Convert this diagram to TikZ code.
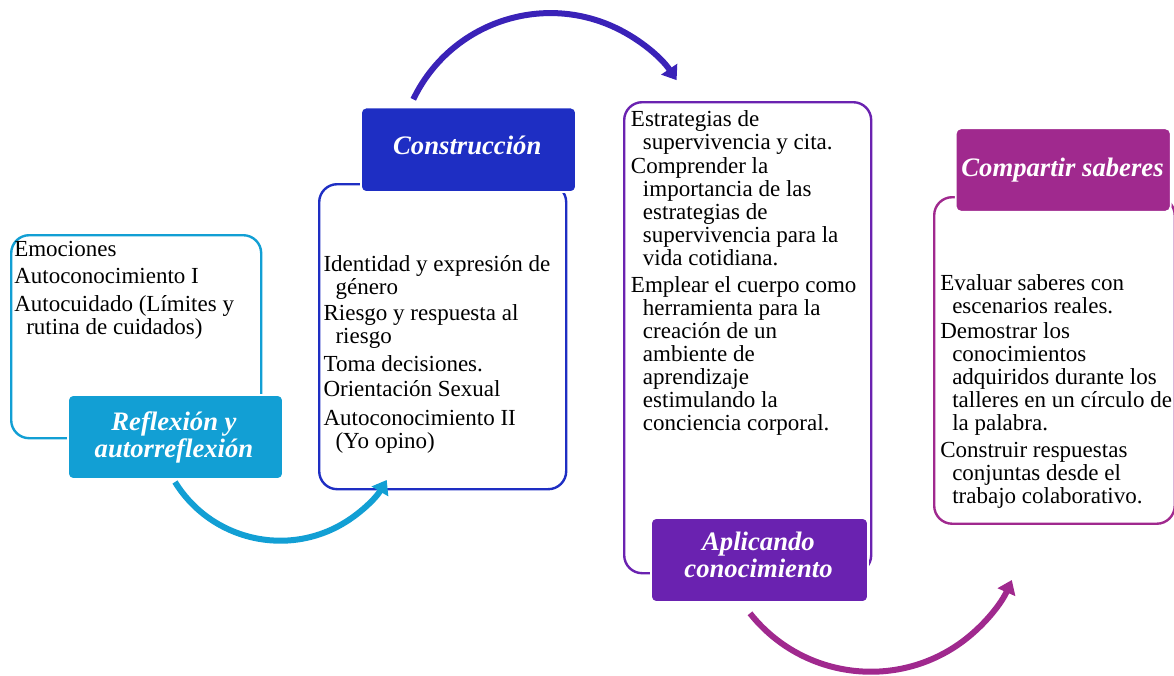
\documentclass[tikz,border=0pt]{standalone}
\usepackage{fontspec}
\setmainfont{Liberation Serif}
\usetikzlibrary{arrows.meta}
\definecolor{cA}{RGB}{18,159,212}
\definecolor{cB}{RGB}{30,46,195}
\definecolor{cBarrow}{RGB}{58,34,184}
\definecolor{cC}{RGB}{106,34,176}
\definecolor{cD}{RGB}{160,41,142}
\newcommand\bodyfnt{\fontsize{17.25}{17.25}\selectfont\lineskiplimit=-30pt\lineskip=0pt\relax}
\newcommand\labfnt{\fontsize{20}{20.25}\selectfont\bfseries\itshape\lineskiplimit=-30pt\lineskip=0pt\relax}
\newcommand\st{\rule{0pt}{15pt}}
\newcommand\ind{\hspace*{9pt}}
\begin{document}
\begin{tikzpicture}[x=0.75pt,y=-0.75pt,
  obox/.style={draw,line width=1.8pt,rounded corners=13.5pt,anchor=north west,inner sep=0pt},
  lbox/.style={fill=#1,draw=white,line width=1.2pt,rounded corners=4pt,inner sep=0pt,minimum width=161.25pt,minimum height=63pt},
  body/.style={anchor=north west,inner sep=0pt,align=left,font=\bodyfnt,text=black},
  ltext/.style={anchor=north,inner sep=0pt,align=center,font=\labfnt,text=white},
  flow/.style={line width=4.5pt,-{Triangle[length=10pt,width=14pt]}}
]
\useasboundingbox (0,0) rectangle (1174,675);
\clip (0,0) rectangle (1174,675);

% outline boxes
\node[obox,draw=cA,minimum width=187.5pt,minimum height=152.25pt] (o1) at (10,234) {};
\node[obox,draw=cB,minimum width=185.25pt,minimum height=228.75pt] (o2) at (318,183) {};
\node[obox,draw=cC,minimum width=185.25pt,minimum height=353.25pt] (o3) at (623,101) {};
\node[obox,draw=cD,minimum width=180.4pt,minimum height=244.9pt] (o4) at (933,196) {};

% label boxes
\node[lbox=cA] (l1) at (175.5,437) {};
\node[lbox=cB,minimum height=63.4pt] (l2) at (468.5,149.75) {};
\node[lbox=cC,minimum width=162.75pt] (l3) at (759.5,560) {};
\node[lbox=cD,minimum height=62.5pt] (l4) at (1063.2,170) {};

% label texts
\node[ltext] (t1) at (174,410.7) {\st Reflexión y\\autorreflexión};
\node[ltext] (t2) at (467.3,134) {\st Construcción};
\node[ltext] (t3) at (758.5,530.7) {\st Aplicando\\conocimiento};
\node[ltext] (t4) at (1062.5,156.7) {\st Compartir saberes};

% body texts
\node[body] (b1) at (14,236) {\st Emociones\\[3pt]
Autoconocimiento I\\[3.75pt]
Autocuidado (Límites y\\
\ind rutina de cuidados)};

\node[body] (b2) at (323.3,251.7) {\st Identidad y expresión de\\
\ind género\\[1.9pt]
Riesgo y respuesta al\\
\ind riesgo\\[3.75pt]
Toma decisiones.\\[1.5pt]
Orientación Sexual\\[4.5pt]
Autoconocimiento II\\
\ind (Yo opino)};

\node[body] (b3) at (630.7,106) {\st Estrategias de\\
\ind supervivencia y cita.\\[0.75pt]
Comprender la\\
\ind importancia de las\\
\ind estrategias de\\
\ind supervivencia para la\\
\ind vida cotidiana.\\[3.4pt]
Emplear el cuerpo como\\
\ind herramienta para la\\
\ind creación de un\\
\ind ambiente de\\
\ind aprendizaje\\
\ind estimulando la\\
\ind conciencia corporal.};

\node[body] (b4) at (940,270) {\st Evaluar saberes con\\
\ind escenarios reales.\\[1.5pt]
Demostrar los\\
\ind conocimientos\\
\ind adquiridos durante los\\
\ind talleres en un círculo de\\
\ind la palabra.\\[3pt]
Construir respuestas\\
\ind conjuntas desde el\\
\ind trabajo colaborativo.};

% flow arrows
\coordinate (a1s) at (175,482);
\draw[flow,cA] (a1s) arc[start angle=148.3,end angle=30.6,radius=123.7];
\coordinate (a2s) at (413.3,99.3);
\draw[flow,cBarrow] (a2s) arc[start angle=-154.3,end angle=-34,radius=152.2];
\coordinate (a3s) at (750,613.3);
\draw[flow,cD] (a3s) arc[start angle=141.6,end angle=23.9,radius=154.2];
\end{tikzpicture}
\end{document}
